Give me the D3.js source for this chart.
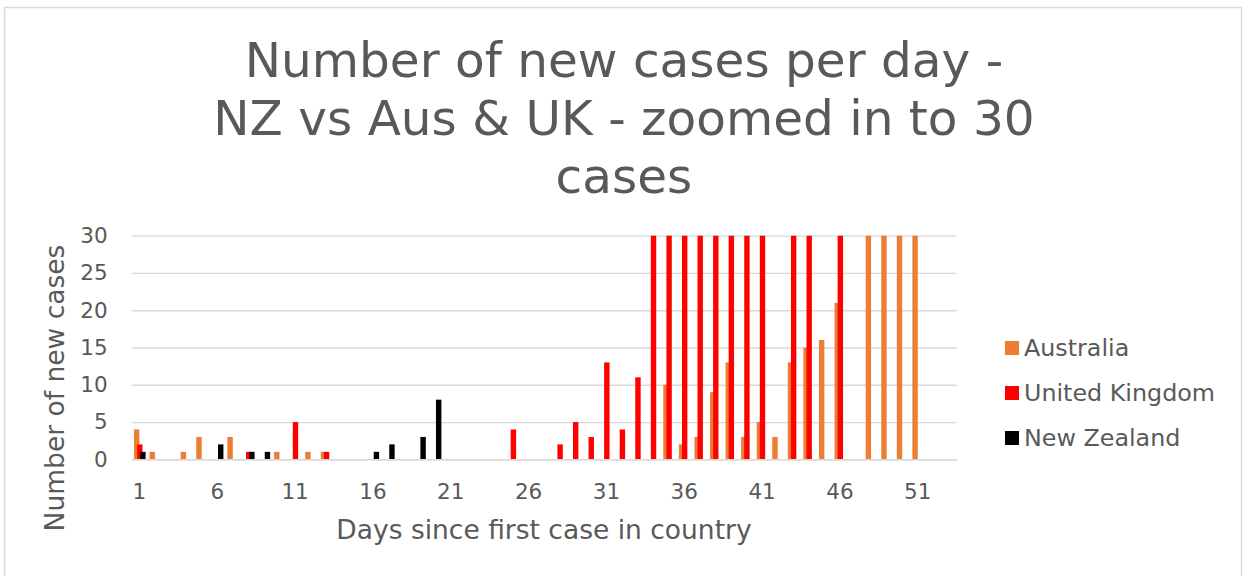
<!DOCTYPE html>
<html>
<head>
<meta charset="utf-8">
<script src="https://cdn.jsdelivr.net/npm/d3@7"></script>
<style>
  body { margin: 0; background: #fff; }
  svg { display: block; font-family: "DejaVu Sans", Verdana, sans-serif; }
</style>
</head>
<body>
<svg id="svg" width="1245" height="576"></svg>
<script>
// days since first case (categories)
const days = d3.range(1, 54);
const seriesNames = ["Australia", "United Kingdom", "New Zealand"];
const seriesColors = ["#ED7D31", "#FF0000", "#000000"];
const xTickValues = [1, 6, 11, 16, 21, 26, 31, 36, 41, 46, 51];
const yTickValues = [0, 5, 10, 15, 20, 25, 30];

// values per day (null = no bar); axis is cut at 30, bars above it show as 30
const australia = [4,1,null,1,3,null,3,null,null,1,null,1,1,null,null,null,null,null,null,null,
  null,null,null,null,null,null,null,null,null,null,null,null,null,null,10,2,3,9,13,3,
  5,3,13,15,16,21,null,30,30,30,30,null,null];
const unitedKingdom = [2,null,null,null,null,null,null,1,null,null,5,null,1,null,null,null,null,null,null,null,
  null,null,null,null,4,null,null,2,5,3,13,4,11,30,30,30,30,30,30,30,
  30,null,30,30,null,30,null,null,null,null,null,null,null];
const newZealand = [1,null,null,null,null,2,null,1,1,null,null,null,null,null,null,1,2,null,3,8,
  null,null,null,null,null,null,null,null,null,null,null,null,null,null,null,null,null,null,null,null,
  null,null,null,null,null,null,null,null,null,null,null,null,null];

const seriesValues = [australia, unitedKingdom, newZealand];

const textColor = "#595959";
const gridColor = "#D9D9D9";
const plotLeft = 131.6, plotRight = 956.7, plotTop = 235.7, plotBottom = 459.3;

var svg = d3.select("#svg");

// chart border (Excel chart area)
svg.append("rect")
    .attr("x", 4.5).attr("y", 7.5)
    .attr("width", 1237).attr("height", 620)
    .attr("fill", "#fff")
    .attr("stroke", gridColor)
    .attr("stroke-width", 1.5);

// title
var title = svg.append("text")
    .attr("text-anchor", "middle")
    .attr("fill", textColor)
    .style("font-size", "48.5px");
["Number of new cases per day -", "NZ vs Aus & UK - zoomed in to 30", "cases"].forEach((line, i) => {
    title.append("tspan").attr("x", 624).attr("y", 77 + i * 58).text(line);
});

// scales
var x = d3.scaleBand().domain(days).range([plotLeft, plotRight]).padding(0);
var y = d3.scaleLinear().domain([0, 30]).range([plotBottom, plotTop]);
var offset = d3.scalePoint().domain(seriesNames).range([-2.7, 3.5]);
const barWidth = 5.4;

// gridlines + y labels
var yAxis = svg.append("g")
    .attr("transform", "translate(" + plotLeft + ",0)")
    .call(d3.axisLeft(y).tickValues(yTickValues).tickSize(-(plotRight - plotLeft)).tickPadding(24));
yAxis.select(".domain").remove();
yAxis.selectAll(".tick line").attr("stroke", gridColor).attr("stroke-width", 1.3);
yAxis.selectAll(".tick text")
    .attr("fill", textColor)
    .style("font-size", "21.5px")
    .style("font-family", "DejaVu Sans, Verdana, sans-serif");

// bars
svg.append("clipPath").attr("id", "plot-clip")
    .append("rect")
    .attr("x", plotLeft).attr("y", plotTop - 1)
    .attr("width", plotRight - plotLeft).attr("height", plotBottom - plotTop + 1);

var barsG = svg.append("g").attr("clip-path", "url(#plot-clip)");
seriesNames.forEach((name, si) => {
    var data = days.map((d, i) => ({ day: d, value: seriesValues[si][i] })).filter(d => d.value != null);
    barsG.append("g").selectAll("rect")
        .data(data).enter().append("rect")
        .attr("x", d => x(d.day) + x.bandwidth() / 2 + offset(name) - barWidth / 2)
        .attr("y", d => y(Math.min(d.value, 30)))
        .attr("width", barWidth)
        .attr("height", d => plotBottom - y(Math.min(d.value, 30)))
        .attr("fill", seriesColors[si]);
});

// x axis
var xAxis = svg.append("g")
    .attr("transform", "translate(0," + plotBottom + ")")
    .call(d3.axisBottom(x).tickValues(xTickValues).tickSize(0).tickPadding(24));
xAxis.select(".domain").attr("stroke", gridColor).attr("stroke-width", 1.5);
xAxis.selectAll(".tick text")
    .attr("fill", textColor)
    .style("font-size", "21.5px")
    .style("font-family", "DejaVu Sans, Verdana, sans-serif");

// axis titles
svg.append("text")
    .attr("x", 544)
    .attr("y", 539)
    .attr("text-anchor", "middle")
    .attr("fill", textColor)
    .style("font-size", "26.5px")
    .text("Days since first case in country");

svg.append("text")
    .attr("transform", "translate(64,388) rotate(-90)")
    .attr("text-anchor", "middle")
    .attr("fill", textColor)
    .style("font-size", "26.5px")
    .text("Number of new cases");

// legend
var legend = svg.append("g");
seriesNames.forEach((name, i) => {
    legend.append("rect")
        .attr("x", 1005).attr("y", 341 + i * 45)
        .attr("width", 14).attr("height", 14)
        .attr("fill", seriesColors[i]);
    legend.append("text")
        .attr("x", 1024).attr("y", 356 + i * 45)
        .attr("fill", textColor)
        .style("font-size", "23.8px")
        .text(name);
});
</script>
</body>
</html>
